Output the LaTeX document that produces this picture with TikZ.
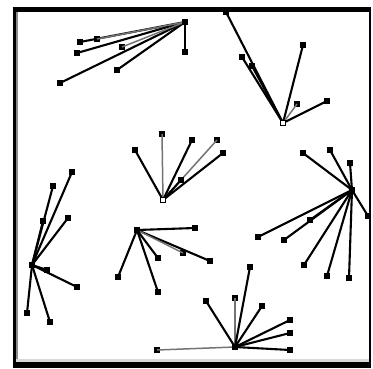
\documentclass[tikz,border=0pt]{standalone}
\usepackage{tikz}

\begin{document}
\begin{tikzpicture}[x=1pt, y=-1pt]
  \tikzset{
    tip node/.style={rectangle, fill=black, inner sep=0pt, minimum size=6pt},
    open hub/.style={rectangle, draw=black, fill=white, line width=1.4pt, inner sep=0pt, minimum size=5pt},
    solid hub/.style={rectangle, fill=black, inner sep=0pt, minimum size=6.5pt},
    spoke/.style={black, line width=2.1pt},
    faint/.style={black!55, line width=1.5pt},
  }

  % star = hub coordinate, then spokes out to small squares
  \newcommand{\drawstar}[4]{
    \coordinate (S#1) at #2;
    \foreach \x/\y/\st [count=\i] in {#4} {
      \node[tip node] (S#1T\i) at (\x,\y) {};
      \draw[\st] (S#1) -- (S#1T\i.center);
    }
    \node[#3] (S#1H) at (S#1) {};
  }

  \useasboundingbox (0,0) rectangle (373,368);

  % frame
  \draw[black, line width=5pt] (12.5,9.2) -- (371,9.2);
  \draw[black, line width=3.5pt] (14.3,7) -- (14.3,368);
  \draw[black!45, line width=2pt] (17,12) -- (17,362);
  \draw[black, line width=1.5pt] (370.2,7) -- (370.2,362);
  \draw[black!15, line width=3pt] (16,360.5) -- (369,360.5);
  \draw[black, line width=6pt] (12.5,365) -- (371,365);

  \drawstar{A}{(185,22)}{solid hub}{60/83/spoke, 117/70/spoke, 77/53/spoke, 80/42/spoke,
    97/39/faint, 122/47/faint, 185/52/spoke};
  \drawstar{B}{(283,123)}{open hub}{226/12/spoke, 242/57/spoke, 252/66/spoke, 303/45/spoke,
    327/101/spoke, 297/104/faint};
  \drawstar{C}{(163,200)}{open hub}{135/150/spoke, 162/134/faint, 192/140/spoke,
    217/140/faint, 223/153/spoke, 181/180/spoke};
  \drawstar{D}{(352,190)}{solid hub}{303/153/spoke, 330/150/spoke, 350/163/spoke,
    368/216/spoke, 258/237/spoke, 284/240/spoke, 310/220/spoke,
    304/265/spoke, 327/276/spoke, 349/278/spoke};
  \drawstar{E}{(32,265)}{solid hub}{72/172/spoke, 53/186/spoke, 43/221/spoke,
    68/218/spoke, 47/270/spoke, 77/287/spoke, 27/313/spoke, 50/322/spoke};
  \drawstar{F}{(137,230)}{solid hub}{195/228/spoke, 210/261/spoke, 183/253/faint,
    158/258/spoke, 158/292/spoke, 118/277/spoke};
  \drawstar{G}{(235,347)}{solid hub}{157/350/faint, 206/301/spoke, 235/298/faint,
    250/267/spoke, 262/306/spoke, 290/320/spoke, 290/333/spoke, 290/350/spoke};
\end{tikzpicture}
\end{document}
